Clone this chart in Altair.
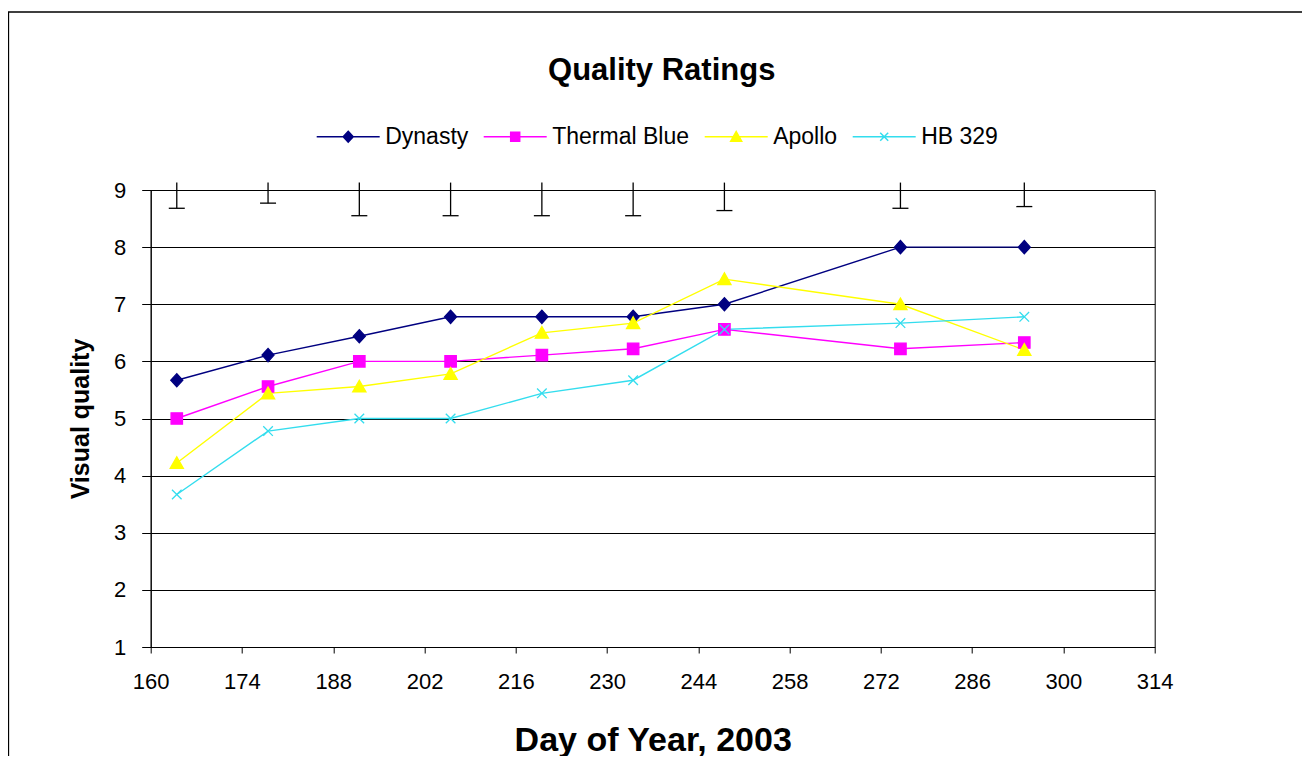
import altair as alt
import pandas as pd

# ---- data ----
days = [164, 178, 192, 206, 220, 234, 248, 275, 294]
series_names = ["Dynasty", "Thermal Blue", "Apollo", "HB 329"]
dynasty = [5.67, 6.11, 6.44, 6.78, 6.78, 6.78, 7.0, 8.0, 8.0]
thermal_blue = [5.0, 5.56, 6.0, 6.0, 6.11, 6.22, 6.56, 6.22, 6.33]
apollo = [4.22, 5.44, 5.56, 5.78, 6.5, 6.67, 7.44, 7.0, 6.2]
hb_329 = [3.67, 4.78, 5.0, 5.0, 5.44, 5.67, 6.56, 6.67, 6.78]
lsd_top = 9.13
lsd_bottom = [8.68, 8.77, 8.55, 8.55, 8.55, 8.55, 8.64, 8.68, 8.71]
x_ticks = list(range(160, 315, 14))
y_ticks = list(range(1, 10))

# ---- styles ----
colors = ["#000080", "#FF00FF", "#FFFF00", "#33DDEE"]
marker_paths = {
    "Dynasty": "M0,-1.1L1,0L0,1.1L-1,0Z",
    "Thermal Blue": "M-0.95,-0.95H0.95V0.95H-0.95Z",
    "Apollo": "M0,-1.05L1.1,0.9H-1.1Z",
    "HB 329": "M-0.8,-0.8L0.8,0.8M0.8,-0.8L-0.8,0.8",
}
legend_paths = [
    "M-6.3,0H6.3M0,-1.1L1,0L0,1.1L-1,0Z",
    "M-6.3,0H6.3M-0.9,-0.9H0.9V0.9H-0.9Z",
    "M-6.3,0H6.3M0,-1.05L1.1,0.9H-1.1Z",
    "M-6.3,0H6.3M-0.8,-0.8L0.8,0.8M0.8,-0.8L-0.8,0.8",
]

rows = []
for name, vals in zip(series_names, [dynasty, thermal_blue, apollo, hb_329]):
    for d, v in zip(days, vals):
        rows.append({"series": name, "day": d, "rating": v})
df = pd.DataFrame(rows)
err = pd.DataFrame({"day": days, "rating": [lsd_top] * len(days), "low": lsd_bottom})

FONT = "Liberation Sans, Arial, sans-serif"

x_axis = alt.Axis(values=x_ticks, title="Day of Year, 2003", grid=False, tickSize=6,
                  labelPadding=18, titleFontSize=34, titleFontWeight="bold",
                  titlePadding=31, labelFlush=False, labelOverlap=False)
y_axis = alt.Axis(values=y_ticks, title="Visual quality", grid=True, tickSize=9,
                  labelPadding=16, titleFontSize=25, titleFontWeight="bold",
                  titlePadding=20, labelFlush=False, labelOverlap=False)
x_enc = alt.X("day:Q", scale=alt.Scale(domain=[160, 314], nice=False, zero=False), axis=x_axis)
y_enc = alt.Y("rating:Q", scale=alt.Scale(domain=[1, 9], nice=False, zero=False), axis=y_axis)
col_scale = alt.Scale(domain=series_names, range=colors)

lines = alt.Chart(df).mark_line(strokeWidth=1.4).encode(
    x=x_enc, y=y_enc,
    color=alt.Color("series:N", scale=col_scale, legend=None),
)

points = alt.Chart(df).transform_calculate(
    marker="{'Dynasty': '%s', 'Thermal Blue': '%s', 'Apollo': '%s', 'HB 329': '%s'}[datum.series]"
    % tuple(marker_paths[n] for n in series_names)
).mark_point(filled=True, size=144, strokeWidth=1.3, opacity=1).encode(
    x=x_enc, y=y_enc,
    shape=alt.Shape("marker:N", scale=None, legend=None),
    fill=alt.Fill("series:N", scale=col_scale),
    stroke=alt.Stroke("series:N", scale=col_scale),
)

leg = alt.Legend(title=None, orient="none", legendX=186, legendY=-65, direction="horizontal",
                 symbolSize=100, symbolStrokeWidth=1.5, labelFont=FONT, labelFontSize=23,
                 labelColor="black", labelOffset=25.5, columnPadding=12, labelLimit=400)
legend_layer = alt.Chart(df).transform_filter("false").mark_point(filled=True, opacity=1).encode(
    x=x_enc, y=y_enc,
    shape=alt.Shape("series:N", scale=alt.Scale(domain=series_names, range=legend_paths), legend=leg),
    fill=alt.Fill("series:N", scale=col_scale, legend=leg),
    stroke=alt.Stroke("series:N", scale=col_scale, legend=leg),
)

err_rule = alt.Chart(err).mark_rule(color="black", strokeWidth=1.3).encode(
    x=x_enc, y=y_enc, y2="low:Q")
err_cap = alt.Chart(err).mark_tick(orient="horizontal", color="black", size=16, thickness=1.3,
                                   opacity=1).encode(
    x=x_enc, y=alt.Y("low:Q", scale=alt.Scale(domain=[1, 9], nice=False, zero=False), axis=y_axis))

frame = alt.Chart(alt.Data(values=[{"f": 1}])).mark_rect(
    fillOpacity=0, stroke="black", strokeWidth=1.3).encode(
    x=alt.value(-142.2), x2=alt.value(1155.8), y=alt.value(-178), y2=alt.value(800))

chart = alt.layer(frame, legend_layer, err_rule, err_cap, lines, points).properties(
    width=1004, height=457,
    title=alt.TitleParams("Quality Ratings", fontSize=31, font=FONT, fontWeight="bold",
                          anchor="middle", color="black", dx=9, baseline="alphabetic",
                          offset=-100),
    autosize=alt.AutoSizeParams(type="none"),
    padding={"left": 142.7, "top": 182, "right": 147.3, "bottom": 109},
).configure(background="white").configure_view(stroke="black", strokeWidth=1).configure_axis(
    labelFont=FONT, labelFontSize=22, labelColor="black", titleFont=FONT, titleColor="black",
    domainColor="black", tickColor="black", gridColor="black", gridWidth=1, gridOpacity=1,
)

chart.save("out.html", embed_options={"renderer": "svg", "actions": False})
